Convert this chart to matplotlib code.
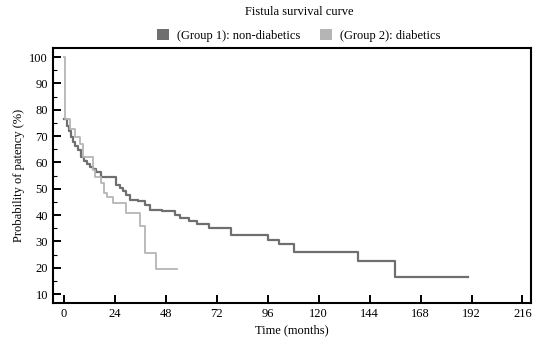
import matplotlib
matplotlib.use("Agg")
import matplotlib.pyplot as plt
from matplotlib.patches import Patch
from matplotlib.ticker import MultipleLocator

# Kaplan-Meier style step data (months, % patency)
g1_time = [0, 1.4, 2.4, 3.3, 4.3, 5.2, 6.6, 8.0, 9.5, 10.9, 12.3, 13.7, 15.1, 17.8,
           24.9, 26.5, 28.0, 29.6, 31.2, 35.1, 38.3, 40.6, 46.2, 52.4, 55.0, 59.0,
           63.0, 68.4, 78.7, 96.2, 101.4, 108.3, 138.7, 156.0, 190.2]
g1_surv = [76.5, 73.9, 72.0, 69.7, 67.8, 66.3, 64.8, 62.1, 60.6, 59.4, 58.3, 57.3, 56.2, 54.4,
           51.6, 50.3, 49.0, 47.8, 45.9, 45.2, 44.0, 42.1, 41.5, 40.0, 38.8, 37.8,
           36.6, 35.1, 32.4, 30.6, 29.0, 26.1, 22.4, 16.6, 16.6]

g2_time = [0, 0.9, 2.8, 5.2, 7.6, 9.0, 13.7, 14.6, 17.8, 19.0, 20.3, 23.3, 29.6,
           35.9, 38.3, 43.7, 53.6]
g2_surv = [100, 76.5, 72.5, 69.5, 67.0, 62.1, 57.1, 54.6, 52.1, 48.3, 47.0, 44.5, 40.7,
           36.0, 25.6, 19.4, 19.4]

labels = ["(Group 1): non-diabetics", "(Group 2): diabetics"]
colors = ["#6f6f6f", "#b5b5b5"]

plt.rcParams["font.family"] = ["Liberation Serif", "DejaVu Serif"]
plt.rcParams["font.size"] = 9

fig = plt.figure(figsize=(5.35, 3.41), dpi=100)
ax = fig.add_axes([0.099, 0.1114, 0.8935, 0.7476])

ax.step(g1_time, g1_surv, where="post", color=colors[0], linewidth=1.6)
ax.step(g2_time, g2_surv, where="post", color=colors[1], linewidth=1.3)

ax.set_xlim(-5, 220)
ax.set_ylim(6.6, 103.4)
ax.set_xticks(range(0, 217, 24))
ax.set_yticks(range(10, 101, 10))
ax.yaxis.set_minor_locator(MultipleLocator(5))
ax.tick_params(axis="both", which="major", direction="in", length=6, width=1.4, colors="black")
ax.tick_params(axis="y", which="minor", direction="in", length=3, width=0.8)
for s in ax.spines.values():
    s.set_linewidth(1.5)

ax.set_xlabel("Time (months)", labelpad=3)
ax.set_ylabel("Probability of patency (%)", labelpad=3)

fig.text(0.56, 0.965, "Fistula survival curve", ha="center", va="center", fontsize=9)
handles = [Patch(facecolor=c, edgecolor="none") for c in colors]
fig.legend(handles, labels, loc="center", bbox_to_anchor=(0.558, 0.897), ncol=2,
           frameon=False, handlelength=1.0, handleheight=1.0, columnspacing=1.6,
           handletextpad=0.6, fontsize=9)

fig.savefig("out.png", dpi=100)
plt.close(fig)
